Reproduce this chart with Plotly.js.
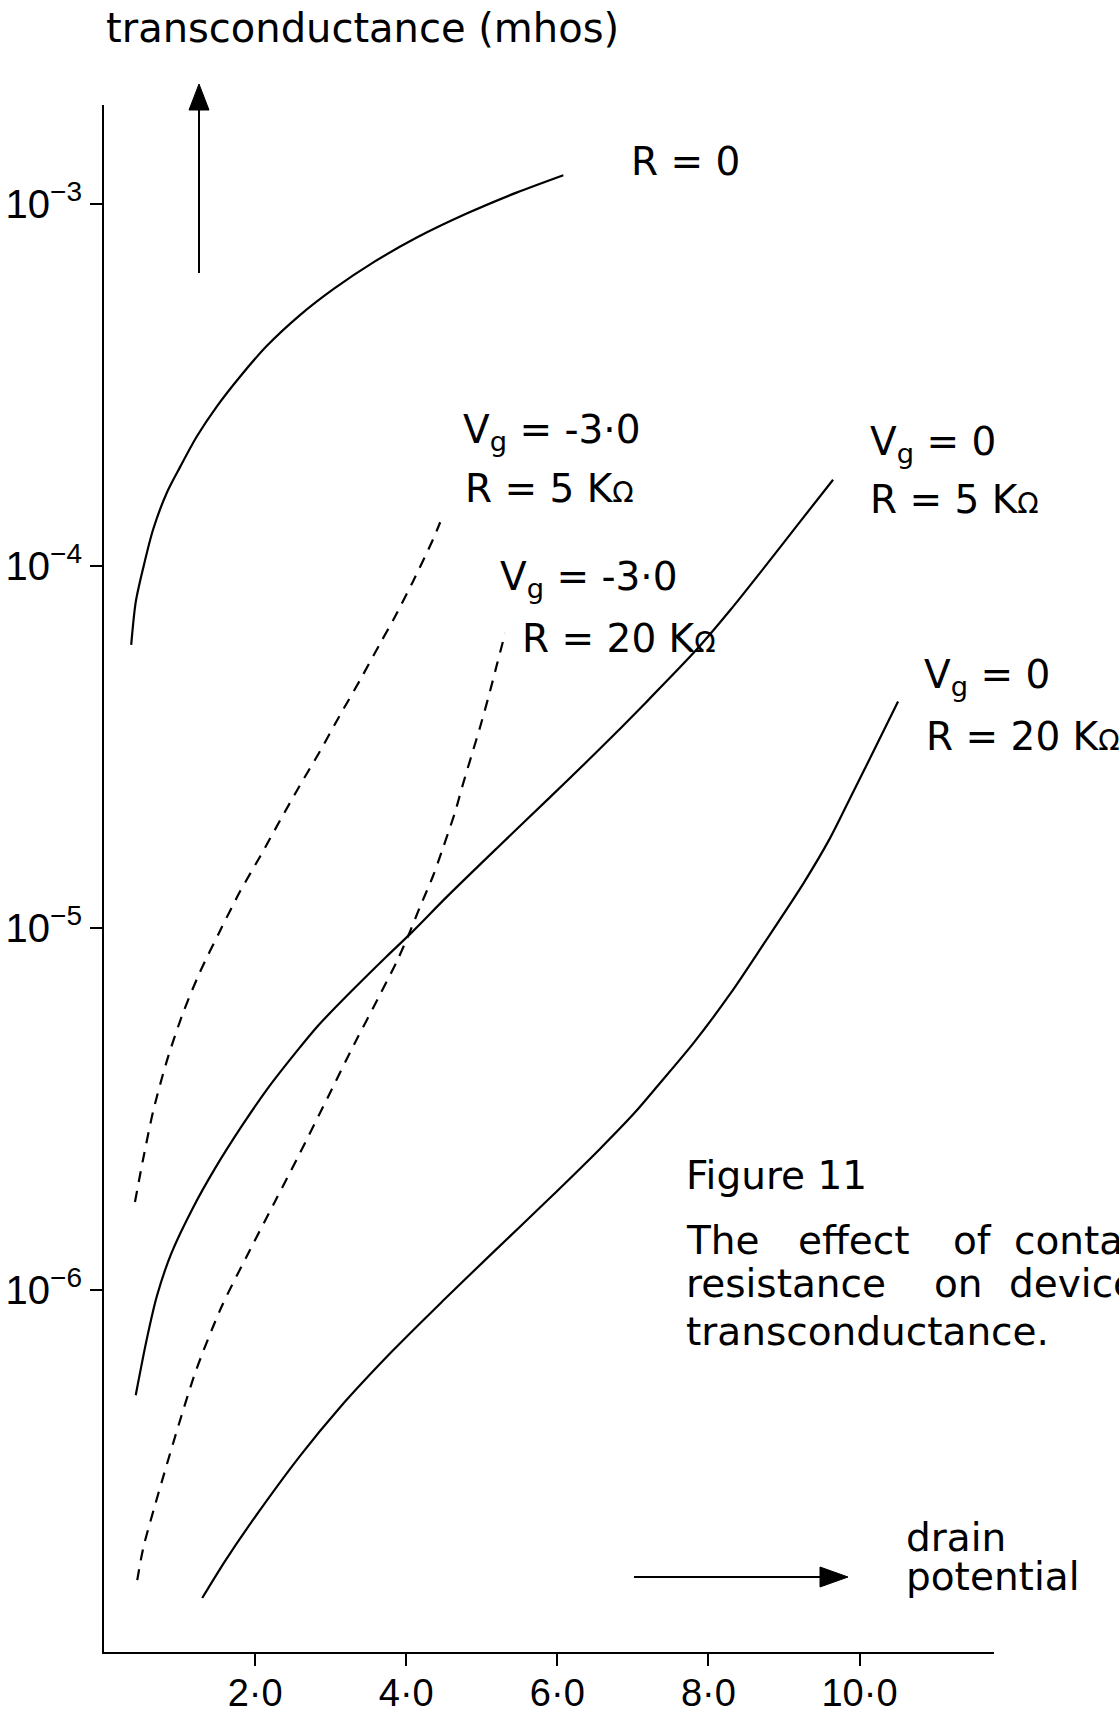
<!DOCTYPE html>
<html>
<head>
<meta charset="utf-8">
<script src="https://cdn.plot.ly/plotly-3.0.1.min.js"></script>
<style>
html, body { margin: 0; padding: 0; background: #ffffff; }
#chart { width: 1119px; height: 1713px; }
</style>
</head>
<body>
<div id="chart"></div>
<script>
// ---- data (drain potential, transconductance in mhos) ----
const xR0 = [0.36, 0.42, 0.52, 0.65, 0.83, 1.01, 1.23, 1.49, 1.80, 2.15, 2.59, 3.04, 3.57, 4.14, 4.80, 5.46, 6.08];
const yR0 = [6.05e-5, 7.94e-5, 9.89e-5, 1.26e-4, 1.59e-4, 1.88e-4, 2.28e-4, 2.75e-4, 3.33e-4, 4.04e-4, 4.92e-4, 5.82e-4, 6.90e-4, 8.07e-4, 9.40e-4, 1.074e-3, 1.20e-3];

const xVgM3R5 = [0.41, 0.52, 0.65, 0.83, 1.05, 1.27, 1.54, 1.80, 2.07, 2.33, 2.59, 2.86, 3.12, 3.39, 3.65, 3.83, 4.09, 4.36, 4.45];
const yVgM3R5 = [1.75e-6, 2.31e-6, 3.11e-6, 4.28e-6, 5.85e-6, 7.55e-6, 9.86e-6, 1.26e-5, 1.58e-5, 1.98e-5, 2.47e-5, 3.08e-5, 3.86e-5, 4.84e-5, 6.08e-5, 7.10e-5, 9.06e-5, 1.19e-4, 1.32e-4];

const xVgM3R20 = [0.44, 0.52, 0.66, 0.80, 0.99, 1.22, 1.55, 1.89, 2.26, 2.59, 2.97, 3.32, 3.65, 3.89, 4.05, 4.18, 4.36, 4.49, 4.65, 4.75, 4.87, 4.98, 5.11, 5.20, 5.31];
const yVgM3R20 = [1.58e-7, 1.94e-7, 2.48e-7, 3.13e-7, 4.25e-7, 6.01e-7, 8.93e-7, 1.24e-6, 1.75e-6, 2.38e-6, 3.43e-6, 4.81e-6, 6.52e-6, 8.20e-6, 9.77e-6, 1.14e-5, 1.40e-5, 1.67e-5, 2.10e-5, 2.49e-5, 3.02e-5, 3.60e-5, 4.51e-5, 5.33e-5, 6.52e-5];

const xVg0R5 = [0.42, 0.56, 0.70, 0.89, 1.18, 1.46, 1.84, 2.17, 2.55, 2.83, 3.26, 3.73, 4.06, 4.54, 5.20, 5.86, 6.52, 7.18, 7.85, 8.29, 8.73, 9.17, 9.65];
const yVg0R5 = [5.12e-7, 7.21e-7, 9.62e-7, 1.26e-6, 1.69e-6, 2.15e-6, 2.87e-6, 3.61e-6, 4.56e-6, 5.36e-6, 6.64e-6, 8.30e-6, 9.66e-6, 1.22e-5, 1.66e-5, 2.25e-5, 3.06e-5, 4.21e-5, 5.89e-5, 7.55e-5, 9.84e-5, 1.29e-4, 1.73e-4];

const xVg0R20 = [1.30, 1.60, 1.91, 2.59, 3.12, 3.82, 4.49, 5.15, 5.86, 6.57, 7.02, 7.36, 7.81, 8.29, 8.73, 9.26, 9.61, 9.87, 10.18, 10.51];
const yVg0R20 = [1.41e-7, 1.78e-7, 2.22e-7, 3.47e-7, 4.73e-7, 6.79e-7, 9.35e-7, 1.27e-6, 1.76e-6, 2.46e-6, 3.08e-6, 3.73e-6, 4.83e-6, 6.58e-6, 9.02e-6, 1.33e-5, 1.77e-5, 2.27e-5, 3.06e-5, 4.22e-5];

const xTickVals = [2, 4, 6, 8, 10];
const xTickText = ['2·0', '4·0', '6·0', '8·0', '10·0'];
const yTickVals = [1e-6, 1e-5, 1e-4, 1e-3];
const yTickText = ['10<sup>−6</sup>', '10<sup>−5</sup>', '10<sup>−4</sup>', '10<sup>−3</sup>'];

const yAxisTitle = 'transconductance (mhos)';
const xAxisTitle = ['drain', 'potential'];
const OHM = '<span style="font-size:28px">Ω</span>';
const curveLabels = [
  ['R = 0'],
  ['V<sub>g</sub> = -3·0', 'R = 5 K' + OHM],
  ['V<sub>g</sub> = -3·0', 'R = 20 K' + OHM],
  ['V<sub>g</sub> = 0', 'R = 5 K' + OHM],
  ['V<sub>g</sub> = 0', 'R = 20 K' + OHM]
];
const captionTitle = 'Figure 11';
const captionLines = [['The', 'effect', 'of', 'contact'], ['resistance', 'on', 'device'], ['transconductance.']];

// ---- layout geometry (pixels) ----
const PAGE_W = 1119, PAGE_H = 1713;
const L = 104, T = 105, R = 994, B = 1652;
const W = R - L, H = B - T;
function px(x) { return (x - L) / W; }
function py(y) { return (B - y) / H; }

const FONT = 'DejaVu Sans, Liberation Sans, sans-serif';
const TICKFONT = 'Liberation Sans, Arial, sans-serif';
const FS = 39;

function ann(text, xLeft, baseline, hasSub) {
  const mid = baseline - (hasSub ? 11 : 13.5);
  return {
    text: text, xref: 'paper', yref: 'paper',
    x: px(xLeft), y: py(mid), xanchor: 'left', yanchor: 'middle',
    showarrow: false, borderpad: 0,
    font: { family: FONT, size: FS, color: '#000' }
  };
}

const annotations = [];
const labelPos = [
  [[630, 175]],
  [[462, 443], [464, 502]],
  [[499, 590], [521, 652]],
  [[869, 455], [869, 513]],
  [[923, 688], [925, 750]]
];
curveLabels.forEach((lines, i) => {
  lines.forEach((t, j) => {
    const p = labelPos[i][j];
    annotations.push(ann(t, p[0], p[1], t.indexOf('<sub>') >= 0));
  });
});
annotations.push(ann(captionTitle, 685, 1189, false));
const capWordX = [[685, 797, 952, 1013], [685, 933, 1008], [685]];
const capBase = [1254, 1297, 1345];
captionLines.forEach((words, i) => {
  words.forEach((w, j) => annotations.push(ann(w, capWordX[i][j], capBase[i], false)));
});
annotations.push(ann(xAxisTitle[0], 905, 1551, false));
annotations.push(ann(xAxisTitle[1], 905, 1590, false));

const shapes = [
  { type: 'line', xref: 'paper', yref: 'paper', x0: px(199), x1: px(199), y0: py(273), y1: py(108),
    line: { color: '#000', width: 2 } },
  { type: 'path', xref: 'paper', yref: 'paper',
    path: `M ${px(189)} ${py(110)} L ${px(209)} ${py(110)} L ${px(199)} ${py(84)} Z`,
    fillcolor: '#000', line: { color: '#000', width: 1 } },
  { type: 'line', xref: 'paper', yref: 'paper', x0: px(634), x1: px(822), y0: py(1577), y1: py(1577),
    line: { color: '#000', width: 2 } },
  { type: 'path', xref: 'paper', yref: 'paper',
    path: `M ${px(820)} ${py(1567)} L ${px(820)} ${py(1587)} L ${px(848)} ${py(1577)} Z`,
    fillcolor: '#000', line: { color: '#000', width: 1 } }
];

const lineSolid = { color: '#000', width: 2.2, shape: 'spline', smoothing: 0.8 };
const lineDash = { color: '#000', width: 2.2, shape: 'spline', smoothing: 0.8, dash: '11px,9px' };

const traces = [
  { x: xR0, y: yR0, name: 'R = 0', mode: 'lines', line: lineSolid },
  { x: xVgM3R5, y: yVgM3R5, name: 'Vg = -3.0, R = 5 KΩ', mode: 'lines', line: lineDash },
  { x: xVgM3R20, y: yVgM3R20, name: 'Vg = -3.0, R = 20 KΩ', mode: 'lines', line: lineDash },
  { x: xVg0R5, y: yVg0R5, name: 'Vg = 0, R = 5 KΩ', mode: 'lines', line: lineSolid },
  { x: xVg0R20, y: yVg0R20, name: 'Vg = 0, R = 20 KΩ', mode: 'lines', line: lineSolid }
].map(t => Object.assign(t, { type: 'scatter', showlegend: false, hoverinfo: 'skip' }));

const layout = {
  width: PAGE_W, height: PAGE_H,
  paper_bgcolor: '#fff', plot_bgcolor: '#fff',
  margin: { l: L, r: PAGE_W - R, t: T, b: PAGE_H - B, pad: 0 },
  showlegend: false,
  title: {
    text: yAxisTitle, xref: 'paper', x: px(106), xanchor: 'left',
    yref: 'container', y: 1 - 28 / PAGE_H, yanchor: 'middle',
    font: { family: FONT, size: 40, color: '#000' }
  },
  xaxis: {
    range: [0, 11.78], showgrid: false, zeroline: false,
    showline: true, linecolor: '#000', linewidth: 2,
    ticks: 'outside', ticklen: 12, tickwidth: 2, tickcolor: '#000',
    tickmode: 'array', tickvals: xTickVals, ticktext: xTickText,
    ticklabelstandoff: -6,
    tickfont: { family: TICKFONT, size: 38, color: '#000' }
  },
  yaxis: {
    type: 'log', range: [-7, -2.727], showgrid: false, zeroline: false,
    showline: true, linecolor: '#000', linewidth: 2,
    ticks: 'outside', ticklen: 12, tickwidth: 2, tickcolor: '#000',
    tickmode: 'array', tickvals: yTickVals, ticktext: yTickText,
    tickfont: { family: TICKFONT, size: 40, color: '#000' }
  },
  annotations: annotations,
  shapes: shapes
};

Plotly.newPlot('chart', traces, layout, { staticPlot: true, displayModeBar: false });
</script>
</body>
</html>
